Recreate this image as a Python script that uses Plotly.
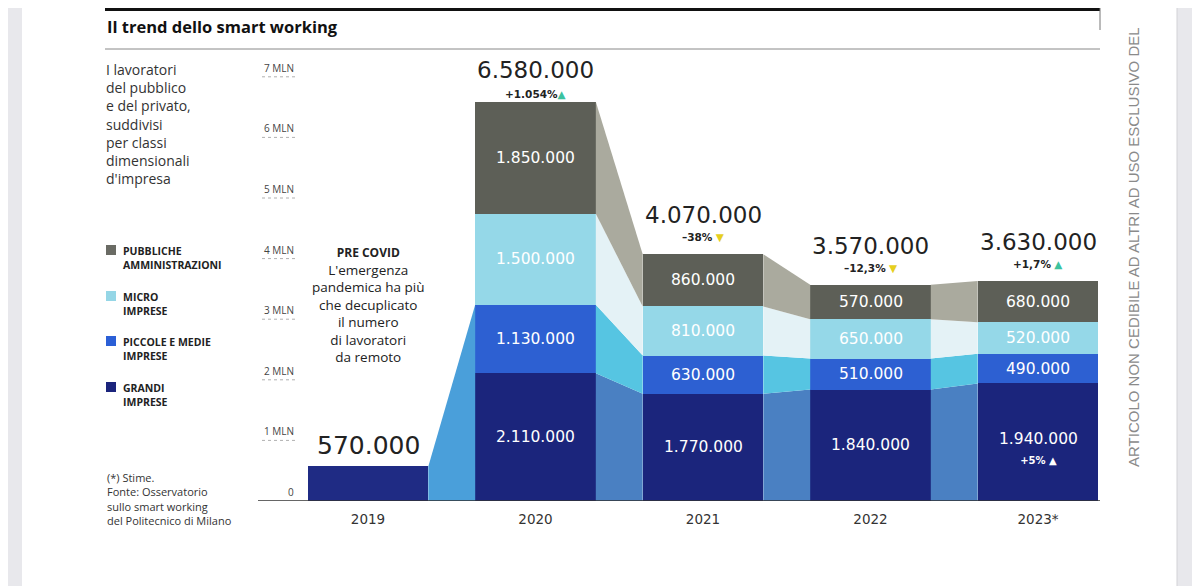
import plotly.graph_objects as go

# ---------------- data ----------------
years = ["2019", "2020", "2021", "2022", "2023*"]
series_names = ["GRANDI IMPRESE", "PICCOLE E MEDIE IMPRESE", "MICRO IMPRESE", "PUBBLICHE AMMINISTRAZIONI"]
grandi = [None, 2110000, 1770000, 1840000, 1940000]
pmi = [None, 1130000, 630000, 510000, 490000]
micro = [None, 1500000, 810000, 650000, 520000]
pa = [None, 1850000, 860000, 570000, 680000]
pre_covid_total = 570000
totals = [570000, 6580000, 4070000, 3570000, 3630000]
changes = ["", "+1.054%", "–38%", "–12,3%", "+1,7%"]
change_up = [None, True, False, False, True]
grandi_2023_change = "+5%"
y_tick_values = [0, 1, 2, 3, 4, 5, 6, 7]
y_tick_labels = ["0", "1 MLN", "2 MLN", "3 MLN", "4 MLN", "5 MLN", "6 MLN", "7 MLN"]

# ---------------- style ----------------
bar_colors = ["#1b257c", "#2d60d2", "#95d8e8", "#5d5f57"]
band_colors = ["#4a80c2", "#56c5e2", "#e4f2f6", "#aaaa9e"]
pre_covid_color = "#1f2b84"
pre_band_color = "#4a9fda"
BW = 0.72
FONT = "Open Sans"
NUMFONT = "DejaVu Sans"

# the page body has an 8px margin: figure is drawn offset by 8px
OFF = 8
W, H = 1200 - OFF, 586 - OFF
# plot area, in screen pixels
PL, PR, PT, PB = 250, 1100, 56, 501

def px(p):
    return (p - PL) / (PR - PL)

def py(q):
    return (PB - q) / (PB - PT)

def fmt(v):
    return f"{v:,}".replace(",", ".")

series = [grandi, pmi, micro, pa]
n = len(years)
M = 1e6

# cumulative stacks
bottoms = [[0.0] * n for _ in series]
tops = [[0.0] * n for _ in series]
for i in range(n):
    acc = 0.0
    for k, s in enumerate(series):
        v = (s[i] or 0) / M
        bottoms[k][i] = acc
        acc += v
        tops[k][i] = acc
stack_top = [tops[-1][i] if i > 0 else pre_covid_total / M for i in range(n)]

fig = go.Figure()

# transition band 2019 -> 2020 (pre-covid total to grandi+pmi)
x0, x1 = 0 + BW / 2, 1 - BW / 2
fig.add_trace(go.Scatter(
    x=[x0, x0, x1, x1, x0], y=[0, pre_covid_total / M, tops[1][1], 0, 0],
    fill="toself", fillcolor=pre_band_color, mode="lines", line=dict(width=0),
    hoverinfo="skip"))

# transition bands between stacked bars
for i in range(1, n - 1):
    x0, x1 = i + BW / 2, i + 1 - BW / 2
    for k in range(len(series)):
        fig.add_trace(go.Scatter(
            x=[x0, x0, x1, x1, x0],
            y=[bottoms[k][i], tops[k][i], tops[k][i + 1], bottoms[k][i + 1], bottoms[k][i]],
            fill="toself", fillcolor=band_colors[k], mode="lines", line=dict(width=0),
            hoverinfo="skip"))

# bars
fig.add_trace(go.Bar(x=[0], y=[pre_covid_total / M], width=BW,
                     marker=dict(color=pre_covid_color, line=dict(width=0)), hoverinfo="skip"))
for k, s in enumerate(series):
    fig.add_trace(go.Bar(
        x=list(range(1, n)), y=[v / M for v in s[1:]], width=BW, name=series_names[k],
        marker=dict(color=bar_colors[k], line=dict(width=0)), hoverinfo="skip"))

ann = []
shapes = []

# segment labels
for i in range(1, n):
    for k, s in enumerate(series):
        mid = (bottoms[k][i] + tops[k][i]) / 2
        txt = fmt(s[i])
        ys = 0
        if k == 0 and i == n - 1:
            txt = fmt(s[i]) + "<br><span style='font-size:10px'><b>" + grandi_2023_change + " ▲</b></span>"
            ys = -6
        ann.append(dict(x=i, y=mid, xref="x", yref="y", text=txt, showarrow=False,
                        yshift=ys, font=dict(family=NUMFONT, size=15.5, color="#ffffff")))

# totals and changes
tot_size = [25, 23, 23, 23, 23]
tot_shift = [4, 17, 24, 24, 24]
chg_shift = [0, 0, 9, 9, 9]
for i in range(n):
    ann.append(dict(x=i, y=stack_top[i], xref="x", yref="y", text=fmt(totals[i]),
                    showarrow=False, yanchor="bottom", yshift=tot_shift[i],
                    font=dict(family=NUMFONT, size=tot_size[i], color="#222222")))
    if changes[i]:
        tri = "▲" if change_up[i] else "▼"
        col = "#3cc29e" if change_up[i] else "#e6cf1e"
        sep = "" if i == 1 else " "
        ann.append(dict(x=i, y=stack_top[i], xref="x", yref="y",
                        text=f"<b>{changes[i]}</b>{sep}<span style='color:{col}'>{tri}</span>",
                        showarrow=False, yanchor="bottom", yshift=chg_shift[i],
                        font=dict(family=NUMFONT, size=10.5, color="#222222")))

# y tick labels and short dotted lines
for v, lab in zip(y_tick_values, y_tick_labels):
    ann.append(dict(x=px(296), y=v, xref="paper", yref="y", text=lab, showarrow=False,
                    xanchor="right", yanchor="bottom", yshift=0,
                    font=dict(family=FONT, size=10, color="#444444")))
    if v > 0:
        shapes.append(dict(type="line", xref="paper", yref="y", x0=px(262), x1=px(296),
                           y0=v, y1=v, line=dict(color="#b0b0b0", width=1, dash="dot")))
shapes.append(dict(type="line", xref="paper", yref="y", x0=px(258), x1=px(1100),
                   y0=0, y1=0, line=dict(color="#333333", width=1.5)))

# page decorations
shapes += [
    dict(type="rect", xref="paper", yref="paper", x0=px(0), x1=px(22), y0=py(600), y1=py(0),
         fillcolor="#e8e8ec", line=dict(width=0), layer="below"),
    dict(type="rect", xref="paper", yref="paper", x0=px(1177), x1=px(1200), y0=py(600), y1=py(0),
         fillcolor="#e8e8ec", line=dict(width=0), layer="below"),
    dict(type="line", xref="paper", yref="paper", x0=px(1177), x1=px(1177), y0=py(600), y1=py(0),
         line=dict(color="#d2d2d6", width=1)),
    dict(type="line", xref="paper", yref="paper", x0=px(105), x1=px(1100), y0=py(9.5), y1=py(9.5),
         line=dict(color="#111111", width=3)),
    dict(type="line", xref="paper", yref="paper", x0=px(105), x1=px(1100), y0=py(49), y1=py(49),
         line=dict(color="#888888", width=1)),
    dict(type="line", xref="paper", yref="paper", x0=px(1100), x1=px(1100), y0=py(0), y1=py(30),
         line=dict(color="#777777", width=1)),
]

# title
ann.append(dict(x=px(105), y=py(26), xref="paper", yref="paper", xanchor="left", yanchor="middle",
                text="<b>Il trend dello smart working</b>", showarrow=False,
                font=dict(family=FONT, size=16.5, color="#111111")))

# left description
ann.append(dict(x=px(104), y=py(58), xref="paper", yref="paper", xanchor="left", yanchor="top",
                align="left", showarrow=False,
                text="I lavoratori<br>del pubblico<br>e del privato,<br>suddivisi<br>per classi<br>dimensionali<br>d'impresa",
                font=dict(family=FONT, size=14, color="#333333")))

# legend
legend_items = [
    ("PUBBLICHE<br>AMMINISTRAZIONI", "#6a6b64", 250),
    ("MICRO<br>IMPRESE", "#95d6e6", 296),
    ("PICCOLE E MEDIE<br>IMPRESE", "#2b5fd6", 341),
    ("GRANDI<br>IMPRESE", "#1b247c", 387),
]
for txt, col, yc in legend_items:
    shapes.append(dict(type="rect", xref="paper", yref="paper", x0=px(106), x1=px(116),
                       y0=py(yc - 5), y1=py(yc + 5), fillcolor=col, line=dict(width=0)))
    ann.append(dict(x=px(121), y=py(yc - 8), xref="paper", yref="paper", xanchor="left",
                    yanchor="top", align="left", showarrow=False, text=f"<b>{txt}</b>",
                    font=dict(family=FONT, size=10.5, color="#222222")))

# footnote
ann.append(dict(x=px(105), y=py(468), xref="paper", yref="paper", xanchor="left", yanchor="top",
                align="left", showarrow=False,
                text="(*) Stime.<br>Fonte: Osservatorio<br>sullo smart working<br>del Politecnico di Milano",
                font=dict(family=FONT, size=11, color="#333333")))

# pre covid note
ann.append(dict(x=0, y=py(242), xref="x", yref="paper", xanchor="center", yanchor="top",
                align="center", showarrow=False,
                text="<span style='font-size:12px'><b>PRE COVID</b></span><br>L'emergenza<br>pandemica ha più<br>che decuplicato<br>il numero<br>di lavoratori<br>da remoto",
                font=dict(family=FONT, size=13.5, color="#222222")))

# vertical watermark
ann.append(dict(x=px(1133), y=py(469), xref="paper", yref="paper", xanchor="center", yanchor="bottom",
                textangle=-90, showarrow=False,
                text="ARTICOLO NON CEDIBILE AD ALTRI AD USO ESCLUSIVO DEL",
                font=dict(family="Liberation Sans", size=15, color="#8a8a8a")))

fig.update_layout(
    width=W, height=H, barmode="stack", showlegend=False,
    paper_bgcolor="#ffffff", plot_bgcolor="#ffffff",
    margin=dict(l=PL - OFF, r=W - (PR - OFF), t=PT - OFF, b=H - (PB - OFF)),
    xaxis=dict(range=[(PL - 368) / 167.5, (PR - 368) / 167.5], tickvals=list(range(n)), ticktext=years,
               showgrid=False, zeroline=False, showline=False, ticks="", ticklabelstandoff=8,
               tickfont=dict(family=NUMFONT, size=13.5, color="#333333"), fixedrange=True),
    yaxis=dict(range=[0, (PB - PT) / 60.6], showgrid=False, zeroline=False, showticklabels=False,
               showline=False, fixedrange=True),
    annotations=ann, shapes=shapes, bargap=0,
)

fig.write_html("out.html")
